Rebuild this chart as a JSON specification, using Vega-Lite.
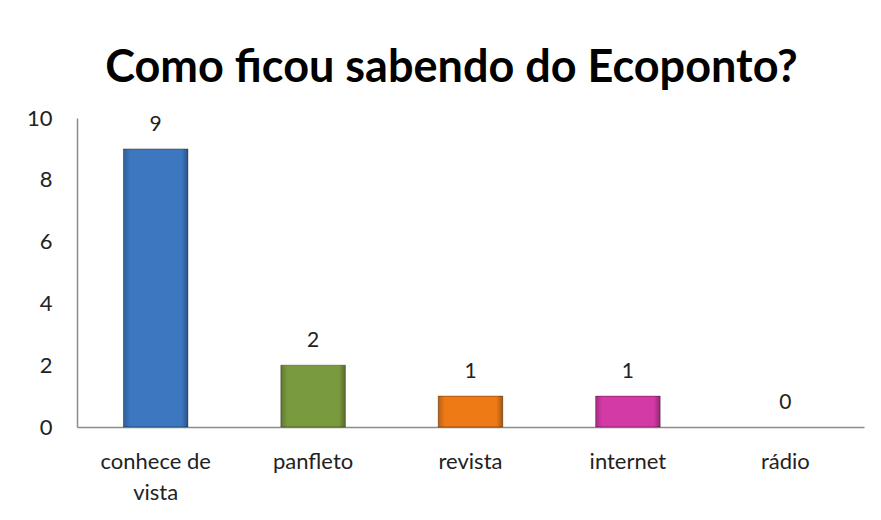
{
  "$schema": "https://vega.github.io/schema/vega-lite/v6.json",
  "autosize": {"type": "none"},
  "padding": {"left": 77, "top": 118, "right": 17, "bottom": 93},
  "width": 787,
  "height": 309,
  "background": "white",
  "config": {"view": {"stroke": null}},
  "title": {
    "text": "Como ficou sabendo do Ecoponto?",
    "font": "Lato",
    "fontWeight": "bold",
    "fontSize": 45,
    "color": "#000000",
    "anchor": "middle",
    "frame": "group",
    "baseline": "alphabetic",
    "dx": -19,
    "offset": -20
  },
  "data": {
    "values": [
      {"categoria": "conhece de vista", "valor": 9},
      {"categoria": "panfleto", "valor": 2},
      {"categoria": "revista", "valor": 1},
      {"categoria": "internet", "valor": 1},
      {"categoria": "rádio", "valor": 0}
    ]
  },
  "encoding": {
    "x": {
      "field": "categoria",
      "type": "nominal",
      "sort": null,
      "scale": {"paddingInner": 0.59, "paddingOuter": 0.295},
      "axis": {
        "title": null,
        "labelAngle": 0,
        "labelFont": "Lato",
        "labelFontSize": 22,
        "labelColor": "#222222",
        "labelBaseline": "alphabetic",
        "labelPadding": 41,
        "labelLineHeight": 31,
        "labelExpr": "datum.label == 'conhece de vista' ? ['conhece de', 'vista'] : datum.label",
        "ticks": false,
        "tickSize": 0,
        "domainColor": "#8c8c8c",
        "domainWidth": 1.5,
        "grid": false
      }
    },
    "y": {
      "field": "valor",
      "type": "quantitative",
      "scale": {"domain": [0, 10]},
      "axis": {
        "title": null,
        "values": [0, 2, 4, 6, 8, 10],
        "labelFont": "Lato",
        "labelFontSize": 22,
        "labelColor": "#222222",
        "labelPadding": 25,
        "ticks": false,
        "tickSize": 0,
        "domainColor": "#8c8c8c",
        "domainWidth": 1.5,
        "grid": false
      }
    }
  },
  "layer": [
    {
      "transform": [{"filter": "datum.valor > 0"}],
      "mark": {"type": "bar", "stroke": "#00000055", "strokeWidth": 1},
      "encoding": {
        "color": {
          "field": "categoria",
          "type": "nominal",
          "legend": null,
          "scale": {
            "domain": ["conhece de vista", "panfleto", "revista", "internet", "rádio"],
            "range": ["#3c77c0", "#7a9a3e", "#ee7a16", "#d43aa6", "#3c77c0"]
          }
        }
      }
    },
    {
      "transform": [{"filter": "datum.valor > 0"}],
      "mark": {
        "type": "bar",
        "fill": {
          "gradient": "linear",
          "x1": 0, "x2": 1, "y1": 0, "y2": 0,
          "stops": [
            {"offset": 0, "color": "rgba(0,0,0,0.22)"},
            {"offset": 0.1, "color": "rgba(0,0,0,0)"},
            {"offset": 0.9, "color": "rgba(0,0,0,0)"},
            {"offset": 1, "color": "rgba(0,0,0,0.3)"}
          ]
        }
      },
      "encoding": {}
    },
    {
      "mark": {
        "type": "text",
        "font": "Lato",
        "fontSize": 21,
        "color": "#222222",
        "baseline": "alphabetic",
        "dy": -18
      },
      "encoding": {
        "text": {"field": "valor", "type": "quantitative"}
      }
    }
  ]
}
